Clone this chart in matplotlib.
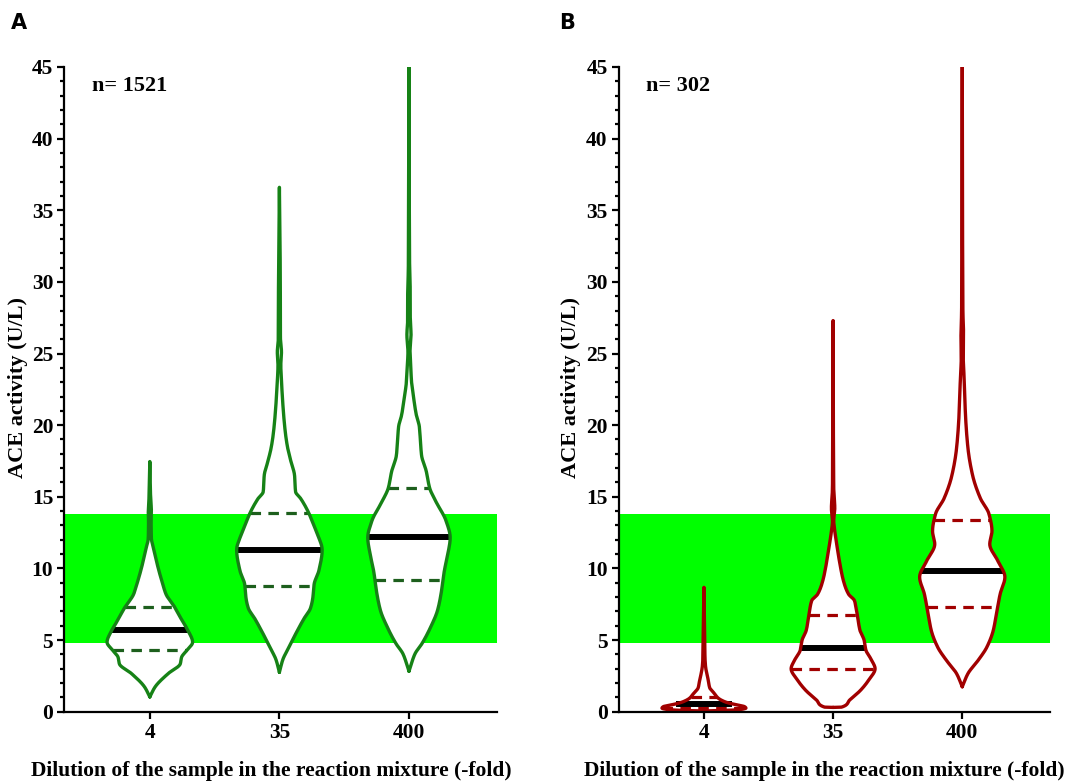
import numpy as np
import matplotlib
matplotlib.use("Agg")
import matplotlib.pyplot as plt
from matplotlib.ticker import MultipleLocator

# ---------------- data ----------------
categories = ["4", "35", "400"]
n_labels = ["n= 1521", "n= 302"]
ref_low, ref_high = 4.8, 13.8

# violin outlines: value levels (U/L) and half-widths (category units)
A4_y = [1.03, 1.72, 2.65, 3.34, 3.8, 4.27, 4.85, 5.66, 6.35, 7.28, 8.2, 8.9, 10.05, 11.44, 12.1, 13.3, 14.0, 15.0, 17.46]
A4_w = [0.0, 0.04, 0.14, 0.235, 0.245, 0.285, 0.33, 0.295, 0.25, 0.193, 0.125, 0.10, 0.064, 0.028, 0.012, 0.01, 0.012, 0.006, 0.0]
A35_y = [2.75, 3.65, 4.37, 5.56, 6.5, 7.23, 7.95, 8.9, 9.86, 11.3, 12.25, 12.96, 13.9, 14.87, 15.35, 16.5, 17.5, 18.45, 19.4, 20.8, 22.75, 24.2, 25.1, 26.1, 30.0, 36.6]
A35_w = [0.0, 0.027, 0.066, 0.133, 0.19, 0.24, 0.258, 0.268, 0.305, 0.33, 0.30, 0.268, 0.225, 0.165, 0.125, 0.117, 0.088, 0.063, 0.047, 0.032, 0.018, 0.011, 0.016, 0.008, 0.007, 0.0]
A400_y = [2.82, 3.4, 4.05, 4.75, 5.9, 7.06, 8.2, 9.84, 11.0, 12.15, 13.3, 14.7, 15.6, 16.8, 17.9, 19.1, 19.9, 20.7, 22.1, 23.0, 24.0, 25.1, 26.3, 27.4, 29.2, 30.9, 45.0]
A400_w = [0.0, 0.02, 0.047, 0.1, 0.167, 0.22, 0.247, 0.273, 0.3, 0.318, 0.287, 0.206, 0.16, 0.133, 0.097, 0.087, 0.08, 0.057, 0.033, 0.02, 0.014, 0.008, 0.016, 0.01, 0.01, 0.005, 0.0]
B4_y = [0.05, 0.1, 0.18, 0.25, 0.35, 0.45, 0.55, 0.7, 0.95, 1.3, 1.66, 2.26, 2.73, 3.2, 3.8, 5.0, 8.68]
B4_w = [0.0, 0.2, 0.3, 0.325, 0.315, 0.27, 0.215, 0.16, 0.11, 0.078, 0.045, 0.032, 0.02, 0.012, 0.008, 0.006, 0.0]
B35_y = [0.3, 0.32, 0.83, 1.52, 2.2, 3.0, 3.6, 4.3, 5.0, 5.68, 6.83, 7.76, 8.2, 9.14, 10.3, 11.45, 12.6, 13.3, 14.2, 15.6, 27.3]
B35_w = [0.0, 0.066, 0.13, 0.215, 0.275, 0.325, 0.298, 0.254, 0.24, 0.208, 0.186, 0.165, 0.12, 0.08, 0.053, 0.032, 0.013, 0.005, 0.013, 0.005, 0.0]
B400_y = [1.74, 2.66, 3.6, 4.5, 5.67, 6.8, 8.2, 9.4, 10.5, 11.7, 12.6, 13.8, 14.9, 16.5, 18.4, 20.7, 23.4, 24.6, 26.3, 28.0, 45.0]
B400_w = [0.0, 0.044, 0.124, 0.19, 0.24, 0.264, 0.293, 0.33, 0.277, 0.213, 0.23, 0.207, 0.14, 0.08, 0.044, 0.025, 0.014, 0.008, 0.01, 0.005, 0.0]

# median, lower quartile, upper quartile
A_median = [5.7, 11.3, 12.2]
A_q1 = [4.3, 8.8, 9.2]
A_q3 = [7.3, 13.9, 15.6]
B_median = [0.55, 4.45, 9.85]
B_q1 = [0.25, 2.95, 7.3]
B_q3 = [1.0, 6.75, 13.4]

# ---------------- style ----------------
plt.rcParams["font.family"] = ["Liberation Serif", "DejaVu Serif"]
plt.rcParams["font.weight"] = "bold"

W, H = 1085, 781
fig = plt.figure(figsize=(W / 100, H / 100), dpi=100)


def pchip(x, y, xn):
    x = np.asarray(x, float)
    y = np.asarray(y, float)
    h = np.diff(x)
    d = np.diff(y) / h
    n = len(x)
    m = np.zeros(n)
    for k in range(1, n - 1):
        if d[k - 1] * d[k] > 0:
            w1 = 2 * h[k] + h[k - 1]
            w2 = h[k] + 2 * h[k - 1]
            m[k] = (w1 + w2) / (w1 / d[k - 1] + w2 / d[k])
    m[0] = d[0]
    m[-1] = d[-1]
    i = np.clip(np.searchsorted(x, xn) - 1, 0, n - 2)
    t = (xn - x[i]) / h[i]
    h00 = 2 * t**3 - 3 * t**2 + 1
    h10 = t**3 - 2 * t**2 + t
    h01 = -2 * t**3 + 3 * t**2
    h11 = t**3 - t**2
    return h00 * y[i] + h10 * h[i] * m[i] + h01 * y[i + 1] + h11 * h[i] * m[i + 1]


def profile(ys, ws):
    yy = np.linspace(ys[0], ys[-1], 3000)
    return yy, np.clip(pchip(ys, ws, yy), 0, None)


def draw_panel(ax, violins, med, q1, q3, color, dcolor, nlabel):
    ax.axhspan(ref_low, ref_high, color="#00ff00", zorder=0, lw=0)
    for i, (ys, ws) in enumerate(violins):
        yy, hw = profile(ys, ws)
        xs = np.concatenate([i + hw, (i - hw)[::-1]])
        ysp = np.concatenate([yy, yy[::-1]])
        ax.fill(xs, ysp, facecolor="white", edgecolor="none", zorder=2)
        for val, c, lw, ls in [(q1[i], dcolor, 2.3, (0, (3.3, 2.3))),
                                (q3[i], dcolor, 2.3, (0, (3.3, 2.3))),
                                (med[i], "black", 4.3, "-")]:
            h = np.interp(val, yy, hw)
            ax.plot([i - h, i + h], [val, val], color=c, lw=lw, ls=ls,
                    solid_capstyle="butt", dash_capstyle="butt", zorder=3)
        ax.plot(np.append(xs, xs[0]), np.append(ysp, ysp[0]), color=color, lw=2.4,
                solid_joinstyle="round", solid_capstyle="round", zorder=4)
    ax.set_xlim(-0.66, 2.677)
    ax.set_ylim(0, 45)
    ax.set_xticks(range(len(categories)))
    ax.set_xticklabels(categories)
    ax.yaxis.set_major_locator(MultipleLocator(5))
    ax.yaxis.set_minor_locator(MultipleLocator(1))
    for s in ["top", "right"]:
        ax.spines[s].set_visible(False)
    for s in ["left", "bottom"]:
        ax.spines[s].set_linewidth(1.6)
        ax.spines[s].set_zorder(5)
    ax.tick_params(axis="both", which="major", length=5, width=1.6,
                   labelsize=15.5, direction="out", pad=3)
    ax.tick_params(axis="y", which="minor", length=3, width=1.6, direction="out")
    ax.tick_params(axis="x", which="minor", length=0)
    ax.text(-0.447, 43.7, nlabel, ha="left", va="center", fontsize=16,
            fontweight="bold")


axA = fig.add_axes([64.3 / W, 1 - 711.7 / H, 432.4 / W, (711.7 - 67) / H])
axB = fig.add_axes([618.7 / W, 1 - 711.7 / H, 431 / W, (711.7 - 67) / H])

draw_panel(axA, [(A4_y, A4_w), (A35_y, A35_w), (A400_y, A400_w)],
           A_median, A_q1, A_q3, "#168216", "#1d5f1d", n_labels[0])
draw_panel(axB, [(B4_y, B4_w), (B35_y, B35_w), (B400_y, B400_w)],
           B_median, B_q1, B_q3, "#a10000", "#a10000", n_labels[1])

ylab = "ACE activity (U/L)"
xlab = "Dilution of the sample in the reaction mixture (-fold)"
for xc_y, xc_x in [(18, 271), (571, 824)]:
    fig.text(xc_y / W, 1 - 388 / H, ylab, rotation=90, ha="center", va="center",
             fontsize=16, fontweight="bold")
    fig.text(xc_x / W, 1 - 771 / H, xlab, ha="center", va="center",
             fontsize=15.5, fontweight="bold")

fig.text(18.5 / W, 1 - 23 / H, "A", ha="center", va="center", fontsize=15,
         fontweight="bold", family="DejaVu Sans")
fig.text(567.5 / W, 1 - 23 / H, "B", ha="center", va="center", fontsize=15,
         fontweight="bold", family="DejaVu Sans")

fig.savefig("out.png", dpi=100)
